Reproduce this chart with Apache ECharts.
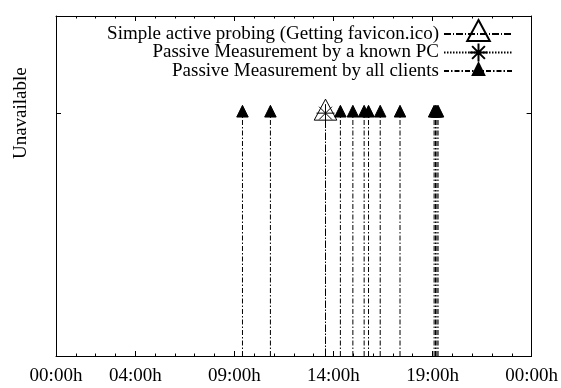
<!DOCTYPE html>
<html>
<head>
<meta charset="utf-8">
<script src="https://cdn.jsdelivr.net/npm/echarts@6/dist/echarts.min.js"></script>
<style>
html,body{margin:0;padding:0;background:#fff;}
#chart{width:561px;height:388px;}
</style>
</head>
<body>
<div id="chart"></div>
<script>
// ---- data ----
const seriesNames = [
  'Simple active probing (Getting favicon.ico)',
  'Passive Measurement by a known PC',
  'Passive Measurement by all clients'
];
// hours of the day at which the service was seen unavailable
const activeProbeHours = [13.6];
const knownPcHours = [13.6];
const allClientsHours = [9.41, 10.82, 14.35, 14.98, 15.55, 15.77, 16.36, 17.36, 19.08, 19.15, 19.22, 19.28];
const unavailableLevel = 1;
const xTickValues = [0, 4, 9, 14, 19, 24];
const xTickLabels = ['00:00h', '04:00h', '09:00h', '14:00h', '19:00h', '00:00h'];
const yTickValues = [1];
const yTickLabels = ['Unavailable'];

// ---- styling ----
const FONT = 'Liberation Serif';
const PAD = 'M-15 -15M15 15';
const SYM_OPEN_TRI = 'path://' + PAD + 'M0 -14L11.3 7L-11.3 7Z';
const SYM_STAR = 'path://' + PAD + 'M-9 0L9 0M0 -9L0 9M-6.4 -6.4L6.4 6.4M-6.4 6.4L6.4 -6.4';
const SYM_FILL_TRI = 'path://' + PAD + 'M0 -7.8L5.75 3.9L-5.75 3.9Z';

function impulses(hours) {
  const d = [];
  hours.forEach(function (h) {
    d.push({ value: [h, 0], symbol: 'none' });
    d.push({ value: [h, unavailableLevel] });
    d.push({ value: ['-', '-'], symbol: 'none' });
  });
  return d;
}

function makeSeries(name, hours, symbol, fill, dash) {
  return {
    name: name,
    type: 'line',
    xAxisIndex: 0,
    yAxisIndex: 0,
    data: impulses(hours),
    connectNulls: false,
    symbol: symbol,
    symbolSize: 30,
    showSymbol: true,
    showAllSymbol: true,
    itemStyle: { color: fill, borderColor: '#000', borderWidth: 1 },
    lineStyle: { color: '#000', width: 1, type: dash },
    emphasis: { disabled: true },
    animation: false
  };
}

function xAxisDef(pos, major, showLabel) {
  const ax = {
    type: 'value',
    position: pos,
    min: 0,
    max: 24,
    interval: 1,
    splitLine: { show: false },
    axisLine: { show: major, onZero: false, lineStyle: { color: '#000', width: 1 } },
    axisTick: { show: true, inside: true, length: major ? 5 : 2.5, lineStyle: { color: '#000', width: 1 } },
    axisLabel: { show: false }
  };
  if (major) {
    ax.axisTick.customValues = xTickValues;
    if (showLabel) {
      ax.axisLabel = {
        show: true,
        customValues: xTickValues,
        margin: 11,
        color: '#000',
        fontFamily: FONT,
        fontSize: 19,
        formatter: function (v) {
          const i = xTickValues.indexOf(v);
          return i >= 0 ? xTickLabels[i] : '';
        }
      };
    }
  }
  return ax;
}

function yAxisDef(pos, showLabel) {
  const ax = {
    type: 'value',
    position: pos,
    min: 0,
    max: 1.4,
    splitLine: { show: false },
    axisLine: { show: true, onZero: false, lineStyle: { color: '#000', width: 1 } },
    axisTick: { show: true, inside: true, length: 5, customValues: yTickValues, lineStyle: { color: '#000', width: 1 } },
    axisLabel: { show: false }
  };
  if (showLabel) {
    ax.axisLabel = {
      show: true,
      customValues: yTickValues,
      rotate: 90,
      margin: 25,
      color: '#000',
      fontFamily: FONT,
      fontSize: 19,
      formatter: function (v) {
        const i = yTickValues.indexOf(v);
        return i >= 0 ? yTickLabels[i] : '';
      }
    };
  }
  return ax;
}

const chart = echarts.init(document.getElementById('chart'), null, { renderer: 'canvas' });
chart.setOption({
  animation: false,
  backgroundColor: '#fff',
  grid: { left: 56, right: 27, top: 16, bottom: 32, containLabel: false },
  legend: {
    orient: 'vertical',
    right: 42,
    top: 13,
    align: 'right',
    itemWidth: 69,
    itemHeight: 37.5,
    itemGap: -13.5,
    selectedMode: false,
    textStyle: { color: '#000', fontFamily: FONT, fontSize: 19 },
    data: seriesNames
  },
  xAxis: [
    xAxisDef('bottom', true, true),
    xAxisDef('bottom', false, false),
    xAxisDef('top', true, false),
    xAxisDef('top', false, false)
  ],
  yAxis: [
    yAxisDef('left', true),
    yAxisDef('right', false)
  ],
  series: [
    makeSeries(seriesNames[0], activeProbeHours, SYM_OPEN_TRI, 'rgba(0,0,0,0)', [7, 2, 1, 2]),
    makeSeries(seriesNames[1], knownPcHours, SYM_STAR, 'rgba(0,0,0,0)', [1.5, 1.5]),
    makeSeries(seriesNames[2], allClientsHours, SYM_FILL_TRI, '#000', [5, 2, 1.5, 2])
  ]
});
</script>
</body>
</html>
